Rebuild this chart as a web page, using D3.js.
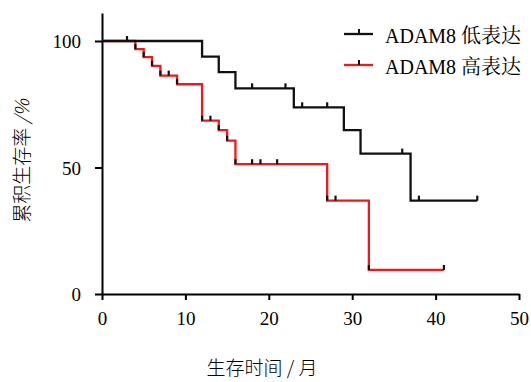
<!DOCTYPE html>
<html>
<head>
<meta charset="utf-8">
<script src="https://cdn.jsdelivr.net/npm/d3@7"></script>
<style>
    body { margin: 0; background: #fff; }
    .axis path, .axis line { stroke: #000; stroke-width: 2px; }
</style>
</head>
<body>
<div id="chart"></div>
<script>
// x / y tick values
var xTicks = [0, 10, 20, 30, 40, 50];
var yTicks = [0, 50, 100];

// series labels
var seriesNames = ["ADAM8 低表达", "ADAM8 高表达"];

// step points [month, survival %]
var lowSteps  = [[0, 100], [12, 93.8], [14, 87.7], [16, 81.3], [23, 73.8], [29, 64.8], [31, 55.5], [37, 36.9], [45, 36.9]];
var highSteps = [[0, 100], [4, 96.8], [5, 93.6], [6, 90.2], [7, 86.3], [9, 82.9], [12, 68.5], [14, 64.8], [15, 60.6], [16, 51.3], [27, 36.9], [32, 9.5], [41, 9.5]];

// censored points (month)
var lowCensor  = [3, 18, 22, 24, 27, 36, 38, 45];
var highCensor = [8, 13, 18, 19, 21, 28, 41];

var serif = "'Liberation Serif', 'Times New Roman', serif";
var width = 531, height = 382;

var svg = d3.select("#chart").append("svg")
    .attr("width", width)
    .attr("height", height);

// scales
var xScale = d3.scaleLinear().domain([0, 50]).range([102, 519]);
var yScale = d3.scaleLinear().domain([0, 100]).range([294, 41]);
var yTop = yScale.invert(13);

// survival value at time t for a step list
function levelAt(steps, t) {
    var v = steps[0][1];
    steps.forEach(function(s) { if (s[0] <= t) v = s[1]; });
    return v;
}

// axes
var xAxis = d3.axisBottom(xScale).tickValues(xTicks).tickSize(6).tickSizeOuter(0).tickPadding(14);
var yAxis = d3.axisLeft(d3.scaleLinear().domain([0, yTop]).range([294, 13]))
    .tickValues(yTicks).tickSize(7).tickSizeOuter(0).tickPadding(14);

var gx = svg.append("g")
    .attr("class", "axis")
    .attr("transform", "translate(0,294)")
    .call(xAxis);

var gy = svg.append("g")
    .attr("class", "axis")
    .attr("transform", "translate(102,0)")
    .call(yAxis);

svg.selectAll(".axis").attr("font-family", null).attr("font-size", null);
svg.selectAll(".tick text")
    .style("font-family", serif)
    .style("font-size", "19px")
    .style("fill", "#000");
gy.selectAll(".tick text").attr("dy", "0.35em");
gx.selectAll(".tick text").attr("dy", "0.6em");

// step line generator
var line = d3.line()
    .x(function(d) { return xScale(d[0]); })
    .y(function(d) { return yScale(d[1]); })
    .curve(d3.curveStepAfter);

// censor / event tick marks
function drawTicks(times, steps, color) {
    svg.append("g").selectAll("line")
        .data(times)
        .enter().append("line")
        .attr("x1", function(t) { return xScale(t); })
        .attr("x2", function(t) { return xScale(t); })
        .attr("y1", function(t) { return yScale(levelAt(steps, t)); })
        .attr("y2", function(t) { return yScale(levelAt(steps, t)) - 5; })
        .style("stroke", color)
        .style("stroke-width", 2.2);
}

// high expression (red), drawn first
svg.append("path")
    .datum(highSteps)
    .attr("d", line)
    .style("fill", "none")
    .style("stroke", "#f01818")
    .style("stroke-width", 2.3);

// event marks on the red curve are black in the picture
drawTicks(highSteps.slice(1, -1).map(function(s) { return s[0]; }), highSteps, "#111");
drawTicks(highCensor, highSteps, "#111");

// low expression (black)
svg.append("path")
    .datum(lowSteps)
    .attr("d", line)
    .style("fill", "none")
    .style("stroke", "#111")
    .style("stroke-width", 2.3);

drawTicks(lowCensor, lowSteps, "#111");

// legend
var legend = svg.append("g").selectAll("g")
    .data(seriesNames)
    .enter().append("g")
    .attr("transform", function(d, i) { return "translate(344," + (34 + i * 31) + ")"; });

legend.append("line")
    .attr("x1", 0).attr("x2", 29)
    .attr("y1", 0).attr("y2", 0)
    .style("stroke", function(d, i) { return i === 0 ? "#111" : "#f01818"; })
    .style("stroke-width", 2.3);

legend.append("line")
    .attr("x1", 15).attr("x2", 15)
    .attr("y1", 0).attr("y2", -5)
    .style("stroke", "#111")
    .style("stroke-width", 2);

legend.append("text")
    .attr("x", 41)
    .attr("y", 9)
    .style("font-family", serif + ", 'Noto Serif CJK SC'")
    .style("font-size", "20px")
    .text(function(d) { return d; });

// axis titles
svg.append("text")
    .attr("x", 262)
    .attr("y", 375)
    .attr("text-anchor", "middle")
    .style("font-family", "'Noto Sans CJK SC', sans-serif")
    .style("font-size", "19px")
    .style("font-weight", "300")
    .text("生存时间 / 月");

var yTitle = svg.append("text")
    .attr("transform", "translate(29,161) rotate(-90)")
    .attr("text-anchor", "middle")
    .style("font-family", "'Noto Sans CJK SC', sans-serif")
    .style("font-size", "19px")
    .style("font-weight", "300");
yTitle.append("tspan").text("累积生存率 ");
yTitle.append("tspan").style("font-style", "italic").text("/%");
</script>
</body>
</html>
